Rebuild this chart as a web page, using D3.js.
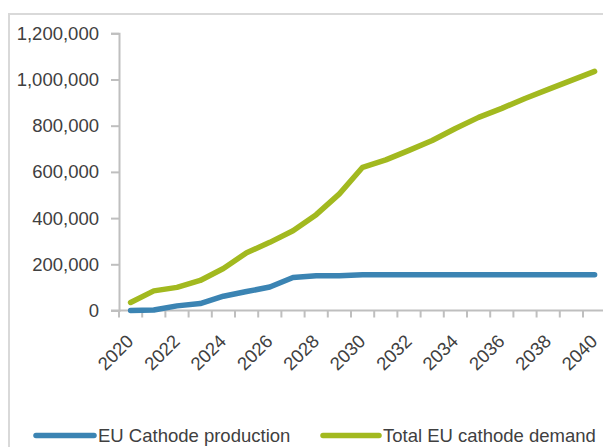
<!DOCTYPE html>
<html>
<head>
<meta charset="utf-8">
<script src="https://cdn.jsdelivr.net/npm/d3@7"></script>
<style>
  html, body { margin: 0; padding: 0; background: #ffffff; }
  svg { display: block; font-family: "Liberation Sans", Arial, sans-serif; }
</style>
</head>
<body>
<svg id="chart" width="603" height="447"></svg>
<script>
// Years on the category axis
const years = d3.range(2020, 2041).map(String);

// EU cathode production (tonnes)
const production = [0, 2000, 20000, 30000, 62000, 82000, 102000, 143000, 150000, 150000,
  155000, 155000, 155000, 155000, 155000, 155000, 155000, 155000, 155000, 155000, 155000];

// Total EU cathode demand (tonnes)
const demand = [35000, 85000, 100000, 130000, 182000, 250000, 295000, 345000, 415000, 505000,
  620000, 652000, 693000, 736000, 788000, 836000, 875000, 918000, 957000, 996000, 1035000];

const yTicks = [0, 200000, 400000, 600000, 800000, 1000000, 1200000];
const xLabels = years.filter((d, i) => i % 2 === 0);

const series = [
  { name: "EU Cathode production", values: production, color: "#3b84b3" },
  { name: "Total EU cathode demand", values: demand, color: "#a2b91f" }
];

const svg = d3.select("#chart");
const plotLeft = 119, plotRight = plotLeft + 21 * 23.2, plotTop = 33.3, plotBottom = 310.5;

// Outer chart frame
svg.append("rect")
  .attr("x", 9).attr("y", 14)
  .attr("width", 620).attr("height", 460)
  .attr("fill", "none").attr("stroke", "#d9d9d9").attr("stroke-width", 2);

const x = d3.scaleBand().domain(years).range([plotLeft, plotRight]);
const y = d3.scaleLinear().domain([0, 1200000]).range([plotBottom, plotTop]);

const axisColor = "#bfbfbf";
const textColor = "#404040";

// Y axis
const yAxis = svg.append("g")
  .attr("transform", `translate(${plotLeft},0)`)
  .call(d3.axisLeft(y).tickValues(yTicks).tickSize(8).tickPadding(12)
    .tickFormat(d3.format(",")));
yAxis.select(".domain").attr("stroke", axisColor).attr("stroke-width", 2);
yAxis.selectAll(".tick line").attr("stroke", axisColor).attr("stroke-width", 2);
yAxis.selectAll(".tick text")
  .attr("fill", textColor).attr("font-size", 18.5)
  .style("font-family", "'Liberation Sans', Arial, sans-serif");

// X axis: tick marks sit on category boundaries
const xg = svg.append("g");
xg.append("line")
  .attr("x1", plotLeft - 8).attr("x2", plotRight)
  .attr("y1", plotBottom).attr("y2", plotBottom)
  .attr("stroke", axisColor).attr("stroke-width", 2);
xg.selectAll("line.tk")
  .data(years.concat(["end"]))
  .join("line")
  .attr("class", "tk")
  .attr("x1", (d, i) => plotLeft + i * x.step())
  .attr("x2", (d, i) => plotLeft + i * x.step())
  .attr("y1", plotBottom).attr("y2", plotBottom + 7)
  .attr("stroke", axisColor).attr("stroke-width", 2);

xg.selectAll("text.xl")
  .data(xLabels)
  .join("text")
  .attr("class", "xl")
  .attr("transform", d => `translate(${x(d) + x.bandwidth() / 2 + 4},${plotBottom + 32}) rotate(-45)`)
  .attr("text-anchor", "end")
  .attr("fill", textColor)
  .attr("font-size", 18.5)
  .text(d => d);

// Lines
const line = d3.line()
  .x((d, i) => x(years[i]) + x.bandwidth() / 2)
  .y(d => y(d));

svg.selectAll("path.series")
  .data(series)
  .join("path")
  .attr("class", "series")
  .attr("d", d => line(d.values))
  .attr("fill", "none")
  .attr("stroke", d => d.color)
  .attr("stroke-width", 5.5)
  .attr("stroke-linejoin", "round")
  .attr("stroke-linecap", "round");

// Legend
const legendPos = [{ x1: 36, x2: 94, tx: 98 }, { x1: 323, x2: 379, tx: 383 }];
const lg = svg.selectAll("g.legend")
  .data(series)
  .join("g")
  .attr("class", "legend");
lg.append("line")
  .attr("x1", (d, i) => legendPos[i].x1)
  .attr("x2", (d, i) => legendPos[i].x2)
  .attr("y1", 435.5).attr("y2", 435.5)
  .attr("stroke", d => d.color)
  .attr("stroke-width", 5.5)
  .attr("stroke-linecap", "round");
lg.append("text")
  .attr("x", (d, i) => legendPos[i].tx)
  .attr("y", 442)
  .attr("fill", textColor)
  .attr("font-size", 18.5)
  .text(d => d.name);
</script>
</body>
</html>
